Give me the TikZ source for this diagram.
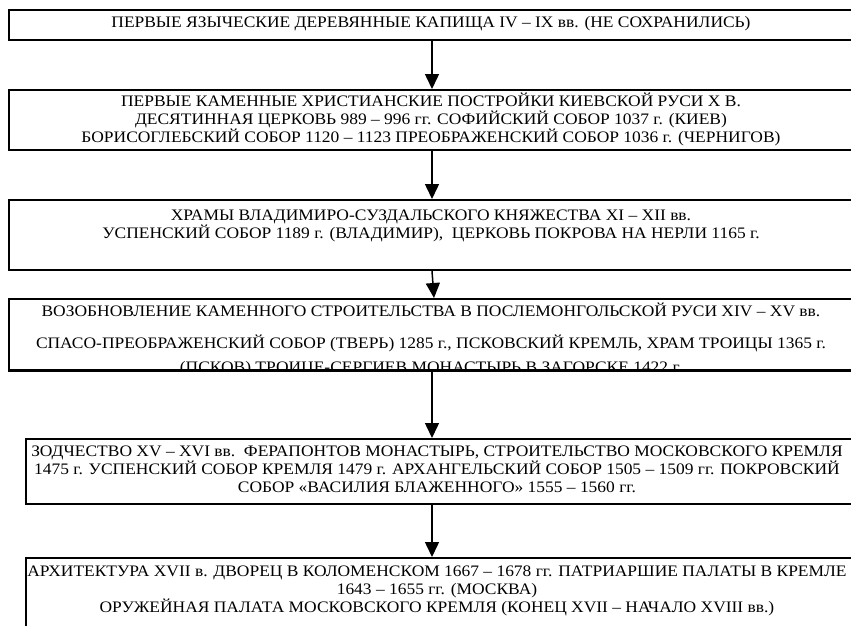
\documentclass[tikz,border=0pt]{standalone}
\usepackage{fontspec}
\setmainfont{Liberation Serif}[FakeStretch=1.09]
\usetikzlibrary{arrows.meta}
\begin{document}
\begin{tikzpicture}[x=1pt,y=-1pt,
  box/.style={draw=black, line width=2pt, rectangle, inner sep=0pt, anchor=north west, fill=none},
  txt/.style={align=center, inner sep=0pt, anchor=base, font=\fontsize{16pt}{18pt}\selectfont},
  arr/.style={draw=black, line width=1.5pt, -{Triangle[length=15pt,width=14pt]}}]
\useasboundingbox[fill=white] (0,0) rectangle (851,626);
% boxes
\node[box, minimum width=846pt, minimum height=30pt] (b1) at (8,9) {};
\node[box, minimum width=846pt, minimum height=60pt] (b2) at (8,89) {};
\node[box, minimum width=846pt, minimum height=70pt] (b3) at (8,199) {};
\node[box, minimum width=846pt, minimum height=71pt] (b4) at (8,298) {};
\node[box, minimum width=829pt, minimum height=65pt] (b5) at (25,438) {};
\node[box, minimum width=829pt, minimum height=90pt] (b6) at (25,557) {};
% texts (anchor = baseline of last line)
\node[txt] (t1) at (431,28) {ПЕРВЫЕ ЯЗЫЧЕСКИЕ ДЕРЕВЯННЫЕ КАПИЩА IV – IX вв. (НЕ СОХРАНИЛИСЬ)};
\node[txt] (t2) at (431,142) {ПЕРВЫЕ КАМЕННЫЕ ХРИСТИАНСКИЕ ПОСТРОЙКИ КИЕВСКОЙ РУСИ X В.\\
ДЕСЯТИННАЯ ЦЕРКОВЬ 989 – 996 гг. СОФИЙСКИЙ СОБОР 1037 г. (КИЕВ)\\
БОРИСОГЛЕБСКИЙ СОБОР 1120 – 1123 ПРЕОБРАЖЕНСКИЙ СОБОР 1036 г. (ЧЕРНИГОВ)};
\node[txt] (t3) at (431,238) {ХРАМЫ ВЛАДИМИРО-СУЗДАЛЬСКОГО КНЯЖЕСТВА XI – XII вв.\\
УСПЕНСКИЙ СОБОР 1189 г. (ВЛАДИМИР),\ \ ЦЕРКОВЬ ПОКРОВА НА НЕРЛИ 1165 г.};
\begin{scope}
\clip (b4.north west) rectangle (b4.south east);
\node[txt] (t4) at (431,372) {ВОЗОБНОВЛЕНИЕ КАМЕННОГО СТРОИТЕЛЬСТВА В ПОСЛЕМОНГОЛЬСКОЙ РУСИ XIV – XV вв.\\[14pt]
СПАСО-ПРЕОБРАЖЕНСКИЙ СОБОР (ТВЕРЬ) 1285 г., ПСКОВСКИЙ КРЕМЛЬ, ХРАМ ТРОИЦЫ 1365 г.\\[6pt]
(ПСКОВ) ТРОИЦЕ-СЕРГИЕВ МОНАСТЫРЬ В ЗАГОРСКЕ 1422 г.};
\end{scope}
\draw[line width=2pt] (b4.south west) -- (b4.south east);
\node[txt] (t5) at (437,492) {ЗОДЧЕСТВО XV – XVI вв.\ \ ФЕРАПОНТОВ МОНАСТЫРЬ, СТРОИТЕЛЬСТВО МОСКОВСКОГО КРЕМЛЯ\\
1475 г. УСПЕНСКИЙ СОБОР КРЕМЛЯ 1479 г. АРХАНГЕЛЬСКИЙ СОБОР 1505 – 1509 гг. ПОКРОВСКИЙ\\
СОБОР «ВАСИЛИЯ БЛАЖЕННОГО» 1555 – 1560 гг.};
\node[txt] (t6) at (437,612) {АРХИТЕКТУРА XVII в. ДВОРЕЦ В КОЛОМЕНСКОМ 1667 – 1678 гг. ПАТРИАРШИЕ ПАЛАТЫ В КРЕМЛЕ\\
1643 – 1655 гг. (МОСКВА)\\
ОРУЖЕЙНАЯ ПАЛАТА МОСКОВСКОГО КРЕМЛЯ (КОНЕЦ XVII – НАЧАЛО XVIII вв.)};
% arrows
\draw[arr] (b1.south) -- (b2.north);
\draw[arr] (b2.south) -- (b3.north);
\draw[arr] (b3.south) -- ([xshift=2pt]b4.north);
\draw[arr] (b4.south) -- (b4.south |- b5.north);
\draw[arr] (b4.south |- b5.south) -- (b4.south |- b6.north);
\end{tikzpicture}
\end{document}
